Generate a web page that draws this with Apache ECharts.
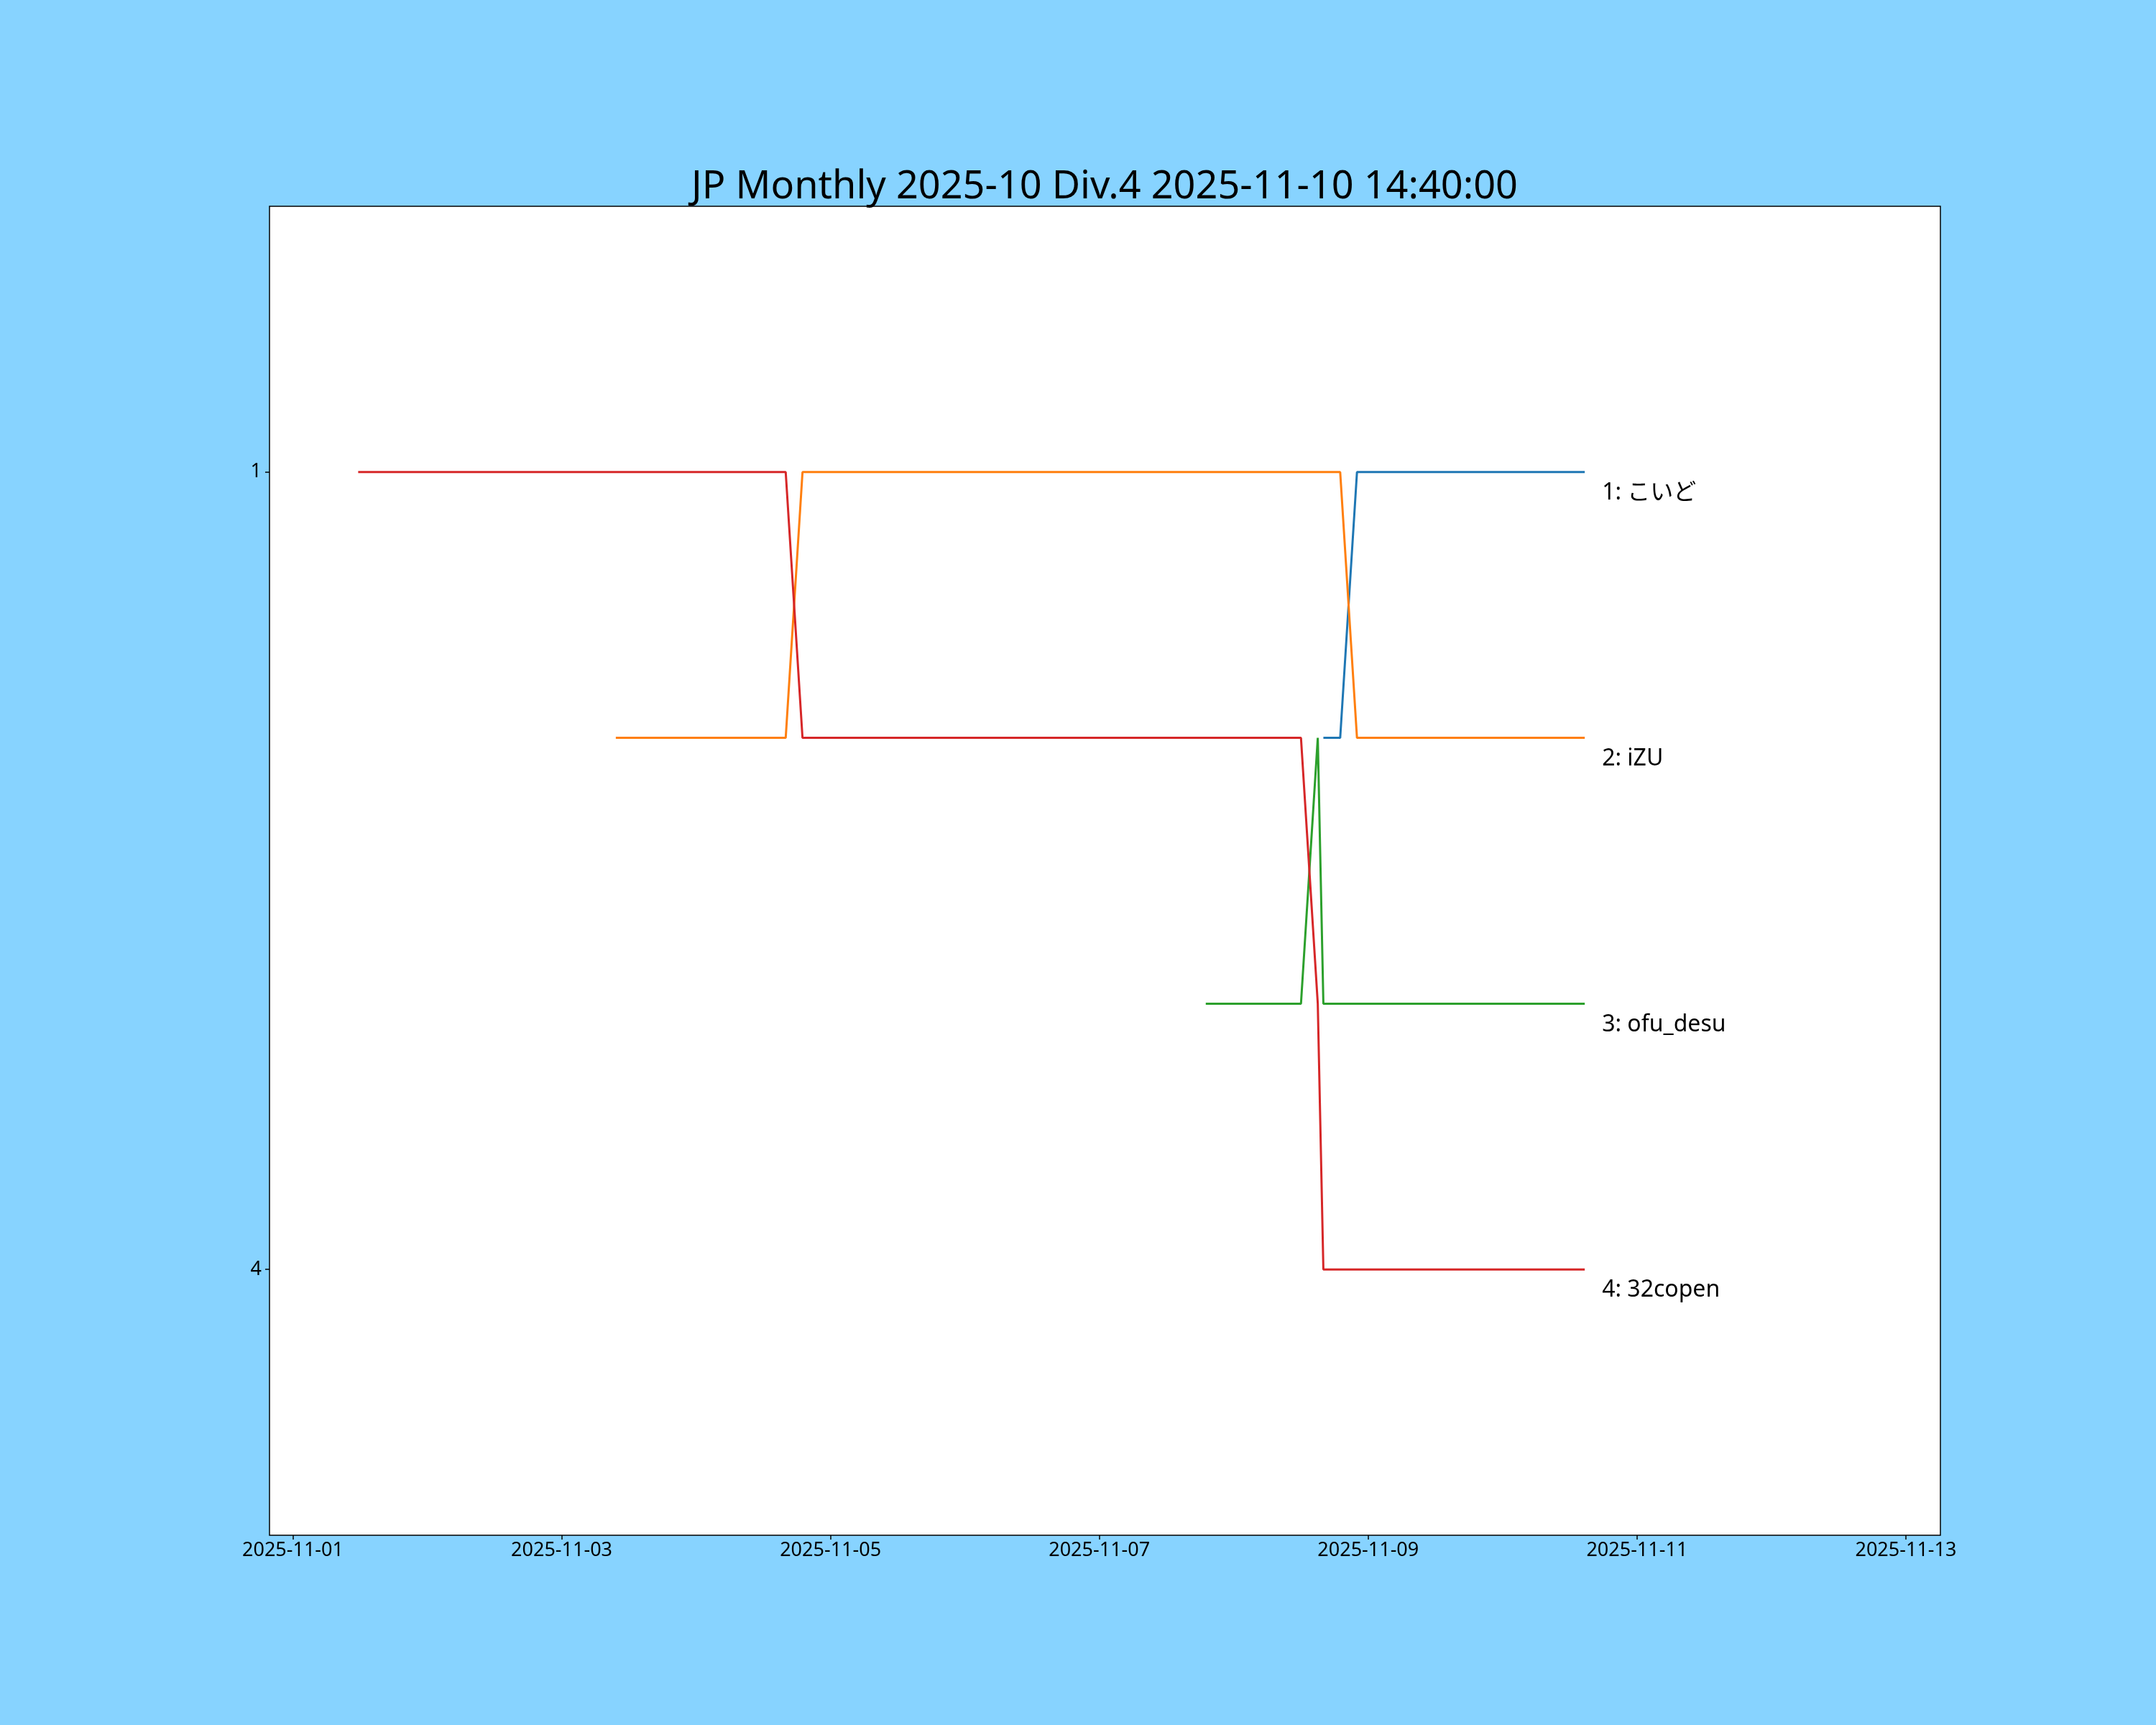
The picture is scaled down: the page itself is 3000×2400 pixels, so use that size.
<!DOCTYPE html>
<html lang="ja">
<head>
    <meta charset="UTF-8">
    <title>JP Monthly 2025-10 Div.4</title>
    <script src="https://cdn.jsdelivr.net/npm/echarts@6/dist/echarts.min.js"></script>
    <style>
        html, body { margin: 0; padding: 0; background: #87d3ff; }
    </style>
</head>
<body>
<div id="main" style="width:3000px;height:2400px;"></div>
<script>
// 順位データ（変化点のみ）
var koidoTimes = ['2025-11-08 16:00', '2025-11-08 19:00', '2025-11-08 22:00', '2025-11-10 14:40'];
var koidoRanks = [2, 2, 1, 1];

var izuTimes = ['2025-11-03 09:40', '2025-11-04 16:00', '2025-11-04 19:00', '2025-11-08 19:00', '2025-11-08 22:00', '2025-11-10 14:40'];
var izuRanks = [2, 2, 1, 1, 2, 2];

var ofuTimes = ['2025-11-07 19:00', '2025-11-08 12:00', '2025-11-08 15:00', '2025-11-08 16:00', '2025-11-10 14:40'];
var ofuRanks = [3, 3, 2, 3, 3];

var copenTimes = ['2025-11-01 11:40', '2025-11-04 16:00', '2025-11-04 19:00', '2025-11-08 12:00', '2025-11-08 15:00', '2025-11-08 16:00', '2025-11-10 14:40'];
var copenRanks = [1, 1, 2, 2, 3, 4, 4];

var xTickLabels = ['2025-11-01', '2025-11-03', '2025-11-05', '2025-11-07', '2025-11-09', '2025-11-11', '2025-11-13'];
var yTickLabels = [1, 4];

var titleText = 'JP Monthly 2025-10 Div.4 2025-11-10 14:40:00';
var font = '"Noto Sans", "Noto Sans CJK JP", sans-serif';

function ts(s) {
    if (s.length === 10) s += ' 00:00';
    return new Date(s.replace(' ', 'T')).getTime();
}
function pairs(times, ranks) {
    var out = [];
    for (var i = 0; i < times.length; i++) {
        out.push([ts(times[i]), ranks[i]]);
    }
    return out;
}
function pad(n) { return n < 10 ? '0' + n : '' + n; }

function makeSeries(name, color, times, ranks, label) {
    return {
        name: name,
        type: 'line',
        data: pairs(times, ranks),
        showSymbol: false,
        symbol: 'none',
        lineStyle: { color: color, width: 3 },
        itemStyle: { color: color },
        endLabel: {
            show: true,
            formatter: label,
            color: '#000',
            fontSize: 32,
            fontFamily: font,
            distance: 24,
            offset: [0, 29]
        }
    };
}

var chart = echarts.init(document.getElementById('main'));
chart.setOption({
    backgroundColor: '#87d3ff',
    animation: false,
    title: {
        text: titleText,
        left: 1532,
        top: 229,
        textAlign: 'center',
        textStyle: {
            color: '#000',
            fontSize: 54,
            fontWeight: 'normal',
            fontFamily: font
        }
    },
    grid: {
        left: 375,
        right: 300,
        top: 287,
        bottom: 264,
        show: true,
        backgroundColor: '#ffffff',
        borderColor: '#000',
        borderWidth: 1.5
    },
    xAxis: {
        type: 'value',
        scale: true,
        min: ts('2025-10-31 19:50'),
        max: ts('2025-11-13 06:10'),
        axisLine: { show: false, onZero: false },
        splitLine: { show: false },
        axisTick: {
            show: true,
            length: 6,
            lineStyle: { color: '#000', width: 1.5 },
            customValues: xTickLabels.map(ts)
        },
        axisLabel: {
            color: '#000',
            fontSize: 27,
            fontFamily: font,
            margin: 8,
            customValues: xTickLabels.map(ts),
            formatter: function (v) {
                var d = new Date(v);
                return d.getFullYear() + '-' + pad(d.getMonth() + 1) + '-' + pad(d.getDate());
            }
        }
    },
    yAxis: {
        type: 'value',
        inverse: true,
        min: 0,
        max: 5,
        axisLine: { show: false, onZero: false },
        splitLine: { show: false },
        axisTick: {
            show: true,
            length: 6,
            lineStyle: { color: '#000', width: 1.5 },
            customValues: yTickLabels
        },
        axisLabel: {
            color: '#000',
            fontSize: 27,
            fontFamily: font,
            margin: 11,
            customValues: yTickLabels
        }
    },
    series: [
        makeSeries('こいど', '#1f77b4', koidoTimes, koidoRanks, '1: こいど'),
        makeSeries('iZU', '#ff7f0e', izuTimes, izuRanks, '2: iZU'),
        makeSeries('ofu_desu', '#2ca02c', ofuTimes, ofuRanks, '3: ofu_desu'),
        makeSeries('32copen', '#d62728', copenTimes, copenRanks, '4: 32copen')
    ]
});
</script>
</body>
</html>
